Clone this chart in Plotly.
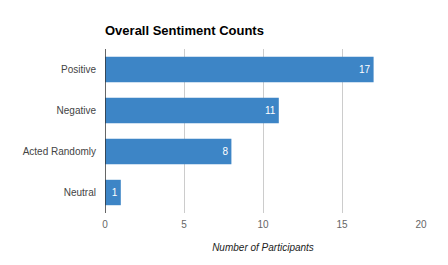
import plotly.graph_objects as go

categories = ["Positive", "Negative", "Acted Randomly", "Neutral"]
counts = [17, 11, 8, 1]
x_ticks = [0, 5, 10, 15, 20]

fig = go.Figure(go.Bar(
    y=categories, x=counts, orientation="h",
    marker=dict(color="#3d85c6", line=dict(width=0)),
    text=[str(c) for c in counts], textposition="inside", insidetextanchor="end",
    textfont=dict(color="white", size=10, family="Liberation Sans, Arial"),
    width=0.62,
))

fig.update_layout(
    width=448, height=265,
    margin=dict(l=105, r=27, t=49, b=52, autoexpand=False),
    paper_bgcolor="white", plot_bgcolor="white",
    font=dict(family="Liberation Sans, Arial", size=10, color="#444"),
    title=dict(text="<b>Overall Sentiment Counts</b>", x=105/448, xanchor="left",
               y=1 - 30/265, yanchor="middle", xref="container", yref="container",
               font=dict(size=13, color="#000", family="Liberation Sans, Arial")),
    showlegend=False,
)
fig.update_xaxes(
    range=[0, 20], tickvals=x_ticks, showgrid=True, gridcolor="#cccccc", gridwidth=1,
    zeroline=False, showline=False, ticks="", ticklabelstandoff=4,
    tickfont=dict(color="#666", size=10), automargin=False,
    title=dict(text="<i>Number of Participants</i>", font=dict(size=10, color="#222"), standoff=14),
    fixedrange=True,
)
fig.update_yaxes(
    categoryorder="array", categoryarray=categories[::-1], automargin=False,
    showgrid=False, showline=False, zeroline=False, ticks="", ticklabelstandoff=8,
    tickfont=dict(color="#444", size=10), fixedrange=True,
)
fig.add_shape(type="line", xref="x", yref="paper", x0=0, x1=0, y0=0, y1=1,
              line=dict(color="#333", width=1.5))

fig.write_html("out.html", config={"displayModeBar": False},
               post_script="document.body.style.margin='0';document.body.style.overflow='hidden';")
